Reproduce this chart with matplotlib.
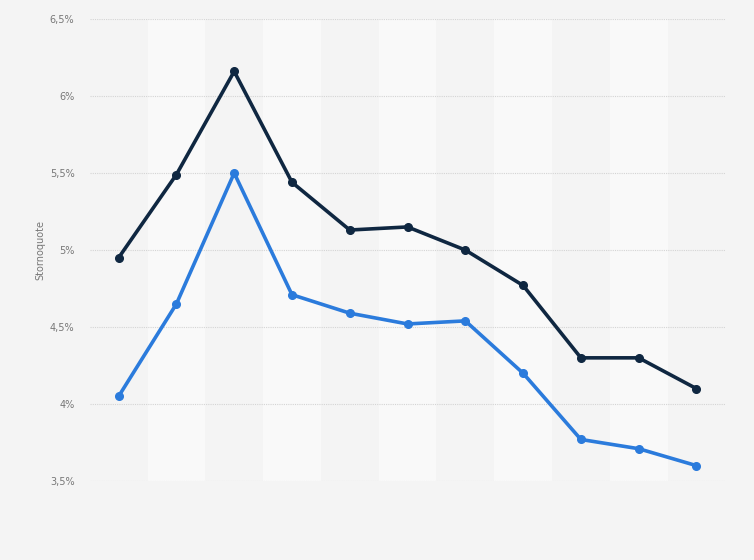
import matplotlib.pyplot as plt
import numpy as np

# Stornoquote, zwei Reihen (keine Achsenbeschriftung auf x im Original)
idx = np.arange(11)
quote_dunkel = [4.95, 5.49, 6.16, 5.44, 5.13, 5.15, 5.00, 4.77, 4.30, 4.30, 4.10]
quote_blau = [4.05, 4.65, 5.50, 4.71, 4.59, 4.52, 4.54, 4.20, 3.77, 3.71, 3.60]
y_ticks = [3.5, 4.0, 4.5, 5.0, 5.5, 6.0, 6.5]
y_labels = ['3,5%', '4%', '4,5%', '5%', '5,5%', '6%', '6,5%']

fig = plt.figure(figsize=(7.54, 5.6), dpi=100)
fig.patch.set_facecolor('#f4f4f4')
ax = fig.add_axes([0.119, 0.141, 0.843, 0.825])
ax.set_facecolor('#f4f4f4')

# helle Streifen hinter jedem zweiten Punkt
for i in idx:
    if i % 2 == 1:
        ax.axvspan(i - 0.5, i + 0.5, color='#f9f9f9', zorder=0, lw=0)

ax.plot(idx, quote_dunkel, color='#0f2741', lw=2.6, marker='o', ms=5.5, zorder=3)
ax.plot(idx, quote_blau, color='#2b7bdc', lw=2.6, marker='o', ms=5.5, zorder=3)

ax.set_xlim(-0.5, 10.5)
ax.set_ylim(3.5, 6.5)
ax.set_yticks(y_ticks)
ax.set_yticklabels(y_labels, fontsize=7, color='#777777')
ax.set_xticks([])
ax.tick_params(axis='y', length=0, pad=11)
ax.grid(axis='y', color='#d4d4d4', linestyle=(0, (1, 1)), lw=0.8, zorder=1)
ax.set_axisbelow(True)
for s in ax.spines.values():
    s.set_visible(False)

ax.set_ylabel('Stornoquote', fontsize=7, color='#777777')
ax.yaxis.set_label_coords(-0.07, 0.5)

fig.savefig('out.png', dpi=100, facecolor=fig.get_facecolor())
